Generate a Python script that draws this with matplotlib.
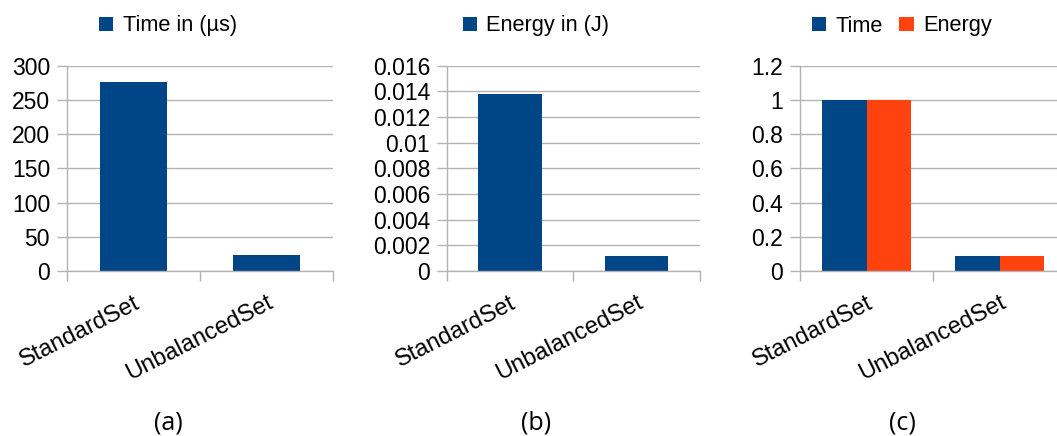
import numpy as np
import matplotlib
matplotlib.use('Agg')
import matplotlib.pyplot as plt
from matplotlib.ticker import FuncFormatter, FixedLocator

plt.rcParams['font.family'] = ['Liberation Sans', 'DejaVu Sans']

# data
categories = ['StandardSet', 'UnbalancedSet']
time_us = [276, 23.5]
energy_j = [0.0138, 0.0012]
norm_time = [1.0, 0.085]
norm_energy = [1.0, 0.085]

BLUE = '#004586'
ORANGE = '#ff420e'
GRID = '#b3b3b3'
FS_TICK = 16.5
FS_LEG = 15.7
FS_X = 17

fig = plt.figure(figsize=(10.57, 4.36), dpi=100)

W, H = 1057.0, 436.0
bottom = (H - 271) / H
height = 205.3 / H


def make_axes(left_px, right_px):
    return fig.add_axes([left_px / W, bottom, (right_px - left_px) / W, height])


def style(ax, ymax, ystep, legend_x, caption):
    x = np.arange(len(categories))
    ax.set_xlim(-0.5, len(categories) - 0.5)
    ax.set_ylim(0, ymax)
    ax.yaxis.set_major_locator(FixedLocator(np.linspace(0, ymax, int(round(ymax / ystep)) + 1)))
    ax.yaxis.set_major_formatter(FuncFormatter(lambda v, p: f'{round(v, 6):g}'))
    ax.set_xticks(x)
    ax.set_xticklabels(categories, rotation=27, ha='right', va='top',
                       rotation_mode='anchor', fontsize=FS_X)
    ax.set_xticks(np.arange(-0.5, len(categories)), minor=True)
    ax.tick_params(axis='x', which='major', length=0, pad=15)
    ax.tick_params(axis='x', which='minor', length=7, width=1, color=GRID, direction='out')
    ax.tick_params(axis='y', length=7, width=1, color=GRID, pad=5, labelsize=FS_TICK)
    ax.grid(axis='y', color=GRID, lw=1)
    ax.set_axisbelow(True)
    for s in ['top', 'right']:
        ax.spines[s].set_visible(False)
    for s in ['left', 'bottom']:
        ax.spines[s].set_color(GRID)
        ax.spines[s].set_linewidth(1)
    ax.legend(loc='center', bbox_to_anchor=(legend_x / W, 1 - 26 / H),
              bbox_transform=fig.transFigure, ncol=2, frameon=False, fontsize=FS_LEG,
              handlelength=0.65, handleheight=0.65, handletextpad=0.45,
              columnspacing=0.75, borderaxespad=0)
    fig.text(legend_x / W, 1 - 423 / H, caption, ha='center', va='center',
             fontsize=18, family=['Open Sans', 'DejaVu Sans'])


x = np.arange(len(categories))

# (a) execution time
ax1 = make_axes(66.7, 333)
ax1.bar(x, time_us, width=0.5, color=BLUE, label='Time in (µs)')
style(ax1, 300, 50, 168, '(a)')

# (b) energy
ax2 = make_axes(446.7, 699.5)
ax2.bar(x, energy_j, width=0.5, color=BLUE, label='Energy in (J)')
style(ax2, 0.016, 0.002, 536, '(b)')

# (c) normalized time and energy
ax3 = make_axes(800, 1066)
bw = 1 / 3
ax3.bar(x - bw / 2, norm_time, width=bw, color=BLUE, label='Time')
ax3.bar(x + bw / 2, norm_energy, width=bw, color=ORANGE, label='Energy')
style(ax3, 1.2, 0.2, 902, '(c)')

fig.savefig('out.png', dpi=100)
